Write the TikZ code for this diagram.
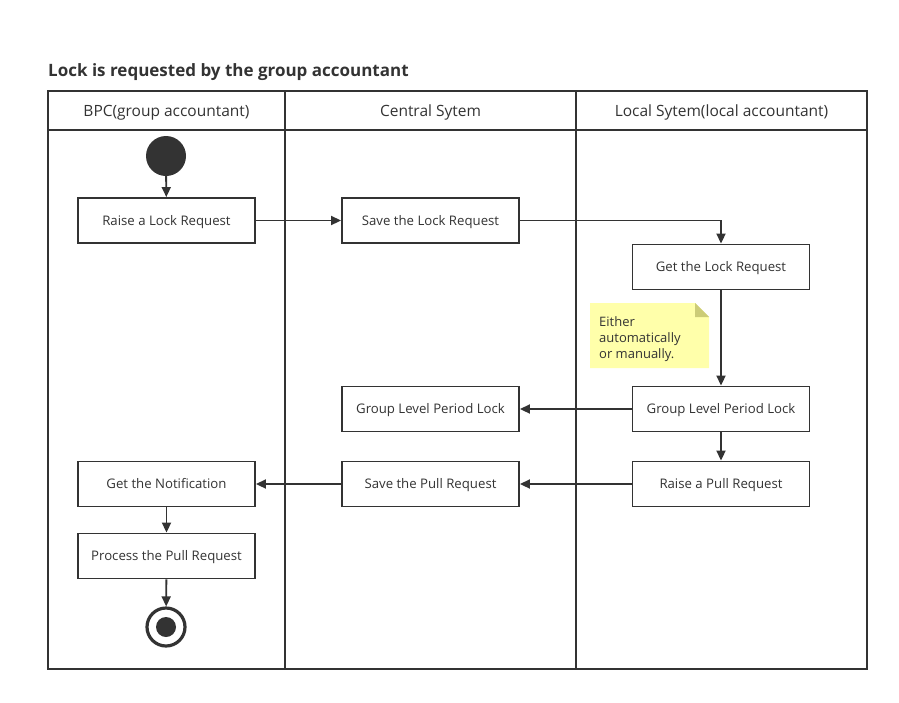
\documentclass[tikz,border=0pt]{standalone}
\usepackage{fontspec}
\setmainfont{Open Sans}
\usetikzlibrary{arrows.meta,positioning}
\definecolor{ink}{HTML}{333333}
\definecolor{notefill}{HTML}{FFFFAA}
\definecolor{notefold}{HTML}{CCCC77}
\tikzset{
  act/.style={draw=ink,line width=1.9pt,fill=white,minimum width=177pt,minimum height=45pt,inner sep=0pt,font=\fontsize{13.2}{14}\selectfont,text=ink,text height=9.4pt,text depth=0pt},
  flow/.style={draw=ink,line width=1.9pt,-{Triangle[length=10pt,width=9pt]}},
  lane/.style={draw=ink,line width=2pt},
  hdr/.style={font=\fontsize{15.5}{16}\selectfont,text=ink,text height=11pt,text depth=0pt},
}
\begin{document}
\begin{tikzpicture}[x=1pt,y=-1pt]
\useasboundingbox (0,0) rectangle (899,702);
% title
\node[anchor=base west,inner sep=0pt,font=\fontsize{17}{18}\bfseries\selectfont,text=ink] (title) at (48,76) {Lock is requested by the group accountant};
% swimlanes
\draw[lane] (48,91) rectangle (867,669);
\draw[lane] (48,130) -- (867,130);
\draw[lane] (285,91) -- (285,669);
\draw[lane] (576,91) -- (576,669);
\node[hdr] (h1) at (166.5,111) {BPC(group accountant)};
\node[hdr] (h2) at (430.5,111) {Central Sytem};
\node[hdr] (h3) at (721.5,111) {Local Sytem(local accountant)};
% start / end
\node[circle,fill=ink,minimum size=40pt,inner sep=0pt] (start) at (166,156) {};
\node[circle,draw=ink,line width=3.2pt,fill=white,minimum size=38pt,inner sep=0pt] (end) at (166,627) {};
\fill[ink] (end.center) circle (10);
% activities
\node[act] (raise) at (166.5,220.5) {Raise a Lock Request};
\node[act] (save) at (430.5,220.5) {Save the Lock Request};
\node[act] (getlock) at (721,267) {Get the Lock Request};
\node[act] (glplR) at (721,409) {Group Level Period Lock};
\node[act] (glplC) at (430.5,409) {Group Level Period Lock};
\node[act] (raisepull) at (721,484) {Raise a Pull Request};
\node[act] (savepull) at (430.5,484) {Save the Pull Request};
\node[act] (notif) at (166.5,484) {Get the Notification};
\node[act] (process) at (166.5,556) {Process the Pull Request};
% note
\fill[notefill] (590,303) -- (695,303) -- (709,317) -- (709,368) -- (590,368) -- cycle;
\fill[notefold] (695,303) -- (709,317) -- (695,317) -- cycle;
\node[anchor=north west,align=left,inner sep=0pt,font=\fontsize{13}{16}\selectfont,text=ink] (note) at (599,316) {Either\\automatically\\or manually.};
% connectors
\draw[flow] (start) -- (raise);
\draw[flow] (raise) -- (save);
\draw[flow] (save.east) -| (getlock.north);
\draw[flow] (getlock) -- (glplR);
\draw[flow] (glplR) -- (glplC);
\draw[flow] (glplR) -- (raisepull);
\draw[flow] (raisepull) -- (savepull);
\draw[flow] (savepull) -- (notif);
\draw[flow] (notif) -- (process);
\draw[flow] (process) -- (end);
\end{tikzpicture}
\end{document}
